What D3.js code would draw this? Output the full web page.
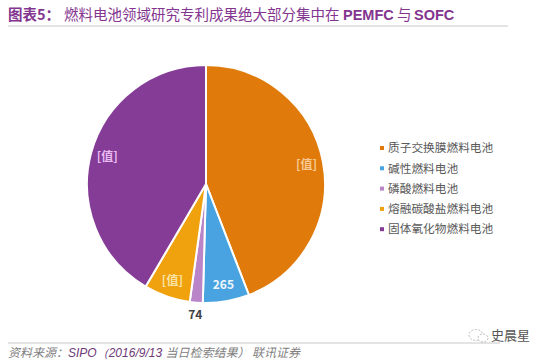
<!DOCTYPE html>
<html><head><meta charset="utf-8">
<script src="https://cdn.jsdelivr.net/npm/d3@7"></script>
<style>
body{margin:0;background:#fff;}
svg{display:block;}
</style></head>
<body>
<svg id="c" width="554" height="363"></svg>
<script>
const categories = ["质子交换膜燃料电池","碱性燃料电池","磷酸燃料电池","熔融碳酸盐燃料电池","固体氧化物燃料电池"];
const values = [1857, 265, 74, 264, 1748];
const labels = ["[值]", "265", "74", "[值]", "[值]"];
const colors = ["#DF7A0B","#48A3E0","#B985C8","#F0A20E","#853C97"];
const labelColors = ["#F7C993","#EEF6FC","#3F3F3F","#FBE3A6","#E9BDF2"];
const labelOutside = [false,false,true,false,false];

const svg = d3.select("#c");
const font = "'Noto Sans CJK SC','Liberation Sans',Arial,sans-serif";
const latin = "'Liberation Sans',Arial,sans-serif";

// title
const t = svg.append("text").attr("x",8).attr("y",20).attr("font-family",font).attr("font-size",14.5).attr("fill","#83358F");
t.append("tspan").attr("font-weight","bold").text("图表5：");
t.append("tspan").attr("x",64).text("燃料电池领域研究专利成果绝大部分集中在");
t.append("tspan").attr("x",343).attr("font-weight","bold").attr("font-family",latin).text("PEMFC");
t.append("tspan").attr("x",397).text("与");
t.append("tspan").attr("x",414).attr("font-weight","bold").attr("font-family",latin).text("SOFC");
svg.append("line").attr("x1",8).attr("x2",508).attr("y1",26).attr("y2",26).attr("stroke","#C8C8C8").attr("stroke-width",1);

// pie
const cx = 206, cy = 184, r = 119;
const pie = d3.pie().sort(null).value(d=>d)(values);
const arc = d3.arc().innerRadius(0).outerRadius(r);
const g = svg.append("g").attr("transform",`translate(${cx},${cy})`);
g.selectAll("path").data(pie).join("path")
  .attr("d",arc).attr("fill",(d,i)=>colors[i]).attr("stroke","#fff").attr("stroke-width",2).attr("stroke-linejoin","round");
const inArc = d3.arc().innerRadius(r*0.86).outerRadius(r*0.86);
const outArc = d3.arc().innerRadius(r*1.1).outerRadius(r*1.1);
g.selectAll("text.lbl").data(pie).join("text").attr("class","lbl")
  .attr("transform",(d,i)=>`translate(${(labelOutside[i]?outArc:inArc).centroid(d)})`)
  .attr("text-anchor","middle").attr("dy","0.35em")
  .attr("font-family",font).attr("font-weight","bold").attr("font-size",12)
  .attr("fill",(d,i)=>labelColors[i]).text((d,i)=>labels[i]);

// legend
const lg = svg.append("g").attr("transform","translate(380,148)");
categories.forEach((c,i)=>{
  const row = lg.append("g").attr("transform",`translate(0,${i*20.3})`);
  row.append("rect").attr("x",0).attr("y",-2).attr("width",4).attr("height",4).attr("fill",colors[i]);
  row.append("text").attr("x",8).attr("y",0).attr("dy","0.36em").attr("font-family",font).attr("font-size",11.7).attr("fill","#595959").text(c);
});

// footer
svg.append("line").attr("x1",8).attr("x2",500).attr("y1",343).attr("y2",343).attr("stroke","#C8C8C8").attr("stroke-width",1);
const f = svg.append("text").attr("x",8).attr("y",357).attr("font-family",font).attr("font-size",12).attr("font-style","italic").attr("fill","#808080");
f.append("tspan").text("资料来源：");
f.append("tspan").attr("fill","#6E3A78").attr("font-family",latin).text("SIPO（2016/9/13 ");
f.append("tspan").text("当日检索结果） 联讯证券");

// watermark
const w = svg.append("g").attr("transform","translate(476,335)");
w.append("ellipse").attr("cx",0).attr("cy",0).attr("rx",7).attr("ry",5.5).attr("fill","none").attr("stroke","#BBBBBB").attr("stroke-width",1).attr("stroke-dasharray","2,1.5");
w.append("ellipse").attr("cx",7).attr("cy",3).attr("rx",5).attr("ry",4).attr("fill","#fff").attr("stroke","#BBBBBB").attr("stroke-width",1).attr("stroke-dasharray","2,1.5");
w.append("text").attr("x",15).attr("y",5).attr("font-family",font).attr("font-size",13).attr("fill","#555").text("史晨星");
</script>
</body></html>
